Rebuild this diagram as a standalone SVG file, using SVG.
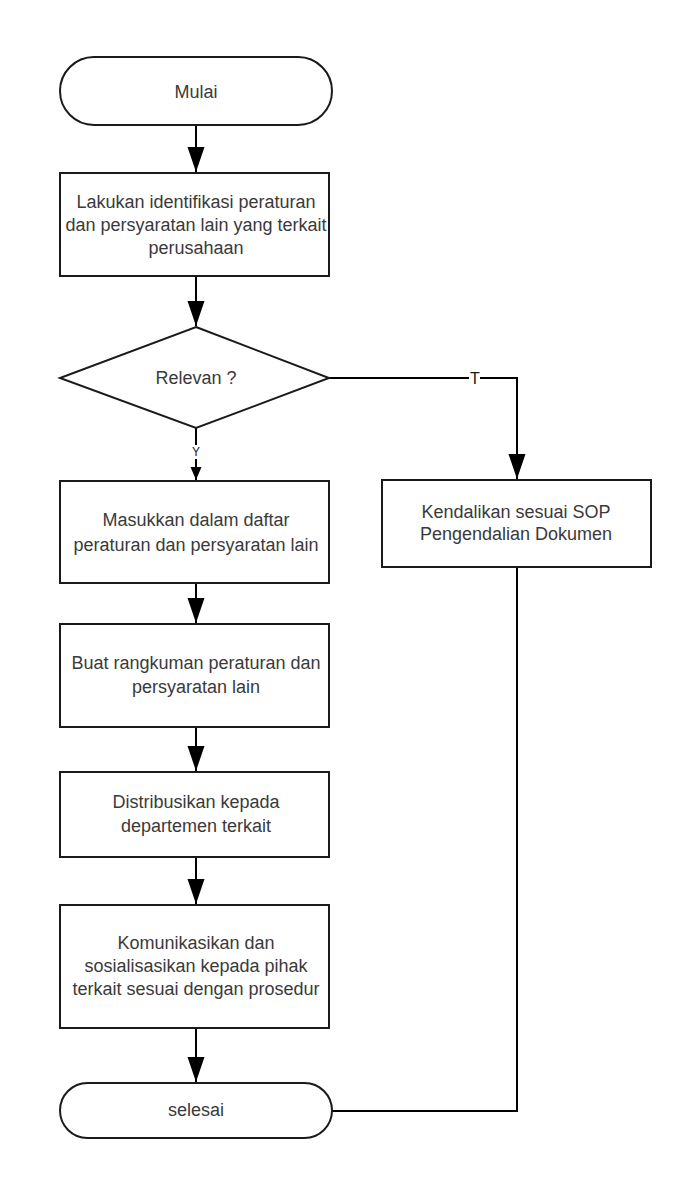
<svg xmlns="http://www.w3.org/2000/svg" width="680" height="1181" viewBox="0 0 680 1181">
<style>
.shape{fill:#ffffff;stroke:#1a1a1a;stroke-width:2}
.txt{font-family:"Liberation Sans",Arial,sans-serif;font-size:18px;fill:#3a3a3a;text-anchor:middle;dominant-baseline:central}
.lbl{font-family:"Liberation Sans",Arial,sans-serif;fill:#1a1a1a;text-anchor:middle;dominant-baseline:central}
.conn{fill:none;stroke:#000000;stroke-width:2}
</style>
<defs>
<marker id="arr" markerUnits="userSpaceOnUse" markerWidth="26" markerHeight="18" refX="25" refY="8.5" orient="auto" viewBox="0 0 26 18">
<path d="M0,0 L25,8.5 L0,17 z" fill="#000000"/>
</marker>
<marker id="arrS" markerUnits="userSpaceOnUse" markerWidth="14" markerHeight="12" refX="13" refY="5.5" orient="auto" viewBox="0 0 14 12">
<path d="M0,0 L13,5.5 L0,11 z" fill="#000000"/>
</marker>
</defs>
<rect width="680" height="1181" fill="#ffffff"/>
<g id="connectors">
<path class="conn" d="M196,125 L196,172" marker-end="url(#arr)"/>
<path class="conn" d="M196,276 L196,326" marker-end="url(#arr)"/>
<path class="conn" d="M196,428 L196,480" marker-end="url(#arrS)"/>
<path class="conn" d="M329,378 L517,378 L517,479" marker-end="url(#arr)"/>
<path class="conn" d="M196,583 L196,623" marker-end="url(#arr)"/>
<path class="conn" d="M196,727 L196,771" marker-end="url(#arr)"/>
<path class="conn" d="M196,857 L196,904" marker-end="url(#arr)"/>
<path class="conn" d="M196,1028 L196,1082" marker-end="url(#arr)"/>
<path class="conn" d="M517,567 L517,1111 L332,1111"/>
<rect x="190" y="445" width="12" height="14" fill="#ffffff"/>
<text class="lbl" x="196" y="452" font-size="12">Y</text>
<rect x="469" y="368" width="11" height="18" fill="#ffffff"/>
<text class="lbl" x="475" y="378" font-size="16">T</text>
</g>
<g id="mulai">
<rect class="shape" x="60" y="57" width="272" height="68" rx="34" ry="34"/>
<text class="txt" x="196" y="92">Mulai</text>
</g>
<g id="identifikasi">
<rect class="shape" x="60" y="173" width="269" height="103"/>
<text class="txt" x="196" y="202">Lakukan identifikasi peraturan</text>
<text class="txt" x="196" y="225">dan persyaratan lain yang terkait</text>
<text class="txt" x="196" y="248">perusahaan</text>
</g>
<g id="relevan">
<polygon class="shape" points="196,327 329,378 196,428 60,378"/>
<text class="txt" x="196" y="378">Relevan ?</text>
</g>
<g id="masukkan">
<rect class="shape" x="60" y="481" width="269" height="102"/>
<text class="txt" x="196" y="520">Masukkan dalam daftar</text>
<text class="txt" x="196" y="545">peraturan dan persyaratan lain</text>
</g>
<g id="kendalikan">
<rect class="shape" x="382" y="480" width="269" height="87"/>
<text class="txt" x="516" y="512">Kendalikan sesuai SOP</text>
<text class="txt" x="516" y="534">Pengendalian Dokumen</text>
</g>
<g id="rangkuman">
<rect class="shape" x="60" y="624" width="269" height="103"/>
<text class="txt" x="196" y="663">Buat rangkuman peraturan dan</text>
<text class="txt" x="196" y="687">persyaratan lain</text>
</g>
<g id="distribusikan">
<rect class="shape" x="60" y="772" width="269" height="85"/>
<text class="txt" x="196" y="802">Distribusikan kepada</text>
<text class="txt" x="196" y="826">departemen terkait</text>
</g>
<g id="komunikasikan">
<rect class="shape" x="60" y="905" width="269" height="123"/>
<text class="txt" x="196" y="943">Komunikasikan dan</text>
<text class="txt" x="196" y="966">sosialisasikan kepada pihak</text>
<text class="txt" x="196" y="989">terkait sesuai dengan prosedur</text>
</g>
<g id="selesai">
<rect class="shape" x="60" y="1083" width="272" height="55" rx="27.5" ry="27.5"/>
<text class="txt" x="196" y="1110">selesai</text>
</g>
</svg>
